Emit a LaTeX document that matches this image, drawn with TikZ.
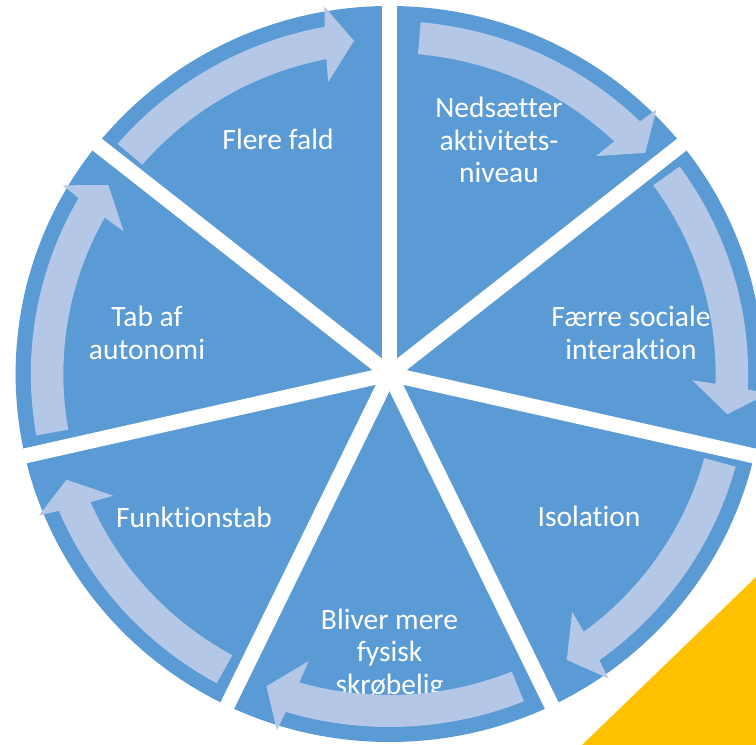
\documentclass[tikz,border=0pt]{standalone}
\usepackage{fontspec}
\setmainfont{Carlito}[Ligatures=NoCommon]
\definecolor{wheelblue}{HTML}{5B9BD5}
\definecolor{arrowblue}{HTML}{B4C7E7}
\definecolor{cornergold}{HTML}{FFC000}

% curved block arrow along the rim: tail angle, tip angle
\newcommand{\rimarrow}[2]{%
  \fill[arrowblue] (#1:353) arc[start angle=#1, end angle={#2+4.4}, radius=353]
    -- ({#2+3.9}:373) -- (#2:335) -- ({#2+5.7}:298) -- ({#2+5.15}:321)
    arc[start angle={#2+5.15}, end angle=#1, radius=321] -- cycle;}

\begin{document}
\begin{tikzpicture}[x=1pt, y=1pt,
  lbl/.style={text=white, align=center, inner sep=0pt, font=\fontsize{29.5}{32.5}\selectfont},
  gap/.style={white, line width=15pt}]
  \useasboundingbox (0,0) rectangle (756,745);

  % --- Corner ---
  \fill[cornergold] (582,0) -- (756,168) -- (756,0) -- cycle;

  % --- Wheel ---
  \coordinate (c) at (389.5,371);
  \begin{scope}[shift={(c)}, xscale=1.016]
    \fill[wheelblue] (0,0) circle[radius=368];
    \foreach \i in {0,...,6}
      \draw[gap] (0,0) -- ({90-\i*360/7}:385);
  \end{scope}

  % --- Labels ---
  \node[lbl] (flere) at (278,606) {Flere fald};
  \node[lbl] (ned) at (499,605) {Nedsætter\\aktivitets-\\niveau};
  \node[lbl] (faerre) at (631,412) {Færre sociale\\interaktion};
  \node[lbl] (iso) at (589,229) {Isolation};
  \node[lbl] (bliver) at (389.5,91) {Bliver mere\\fysisk\\skrøbelig};
  \node[lbl] (funk) at (194,228) {Funktionstab};
  \node[lbl] (tab) at (147,412) {Tab af\\autonomi};

  % --- Arrows ---
  \begin{scope}[shift={(c)}, xscale=1.016]
    \rimarrow{139.3}{96}
    \rimarrow{85}{41.3}
    \rimarrow{36}{-6.9}
    \rimarrow{-15.2}{-58.6}
    \rimarrow{-68}{-111.2}
    \rimarrow{-118.8}{-161.6}
    \rimarrow{190}{145.7}
  \end{scope}
\end{tikzpicture}
\end{document}
